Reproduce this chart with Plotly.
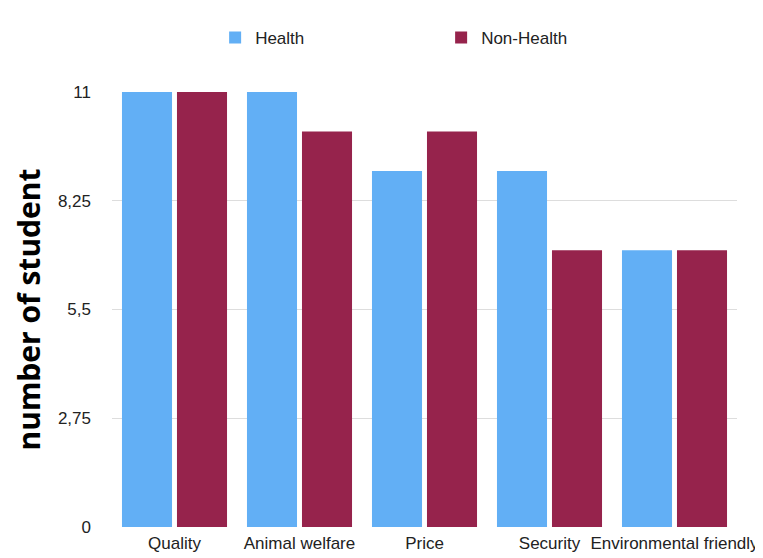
import plotly.graph_objects as go

categories = ["Quality", "Animal welfare", "Price", "Security", "Environmental friendly"]
health = [11, 11, 9, 9, 7]
non_health = [11, 10, 10, 7, 7]
tick_vals = [0, 2.75, 5.5, 8.25, 11]
tick_text = ["0", "2,75", "5,5", "8,25", "11"]

fig = go.Figure()
fig.add_trace(go.Bar(x=categories, y=health, name="Health",
                     marker=dict(color="#62aff5", line=dict(width=0))))
fig.add_trace(go.Bar(x=categories, y=non_health, name="Non-Health",
                     marker=dict(color="#96234c", line=dict(width=0))))

fig.update_layout(
    width=755, height=550,
    margin=dict(l=104, r=26, t=84, b=31, autoexpand=False),
    paper_bgcolor="white", plot_bgcolor="white",
    barmode="group", bargap=0.12, bargroupgap=0.09,
    font=dict(family="Liberation Sans, Arial, sans-serif", size=17, color="#222"),
    legend=dict(orientation="h", x=0.165, y=1.124, xanchor="left", yanchor="middle",
                entrywidth=181, font=dict(size=17, color="#222"),
                bgcolor="rgba(0,0,0,0)"),
    showlegend=True,
)
fig.update_xaxes(showgrid=False, showline=False, ticks="", ticklabelstandoff=4,
                 tickfont=dict(size=17, color="#222"))
fig.update_yaxes(range=[0, 11], tickvals=tick_vals, ticktext=tick_text,
                 showgrid=True, gridcolor="#dddddd", gridwidth=1,
                 zeroline=False, showline=False,
                 ticklabelstandoff=20,
                 tickfont=dict(size=17, color="#222"),
                 title=dict(text="<b>number of student</b>",
                            font=dict(family="Open Sans, sans-serif", size=30, color="black"),
                            standoff=18))

fig.write_html("out.html")
